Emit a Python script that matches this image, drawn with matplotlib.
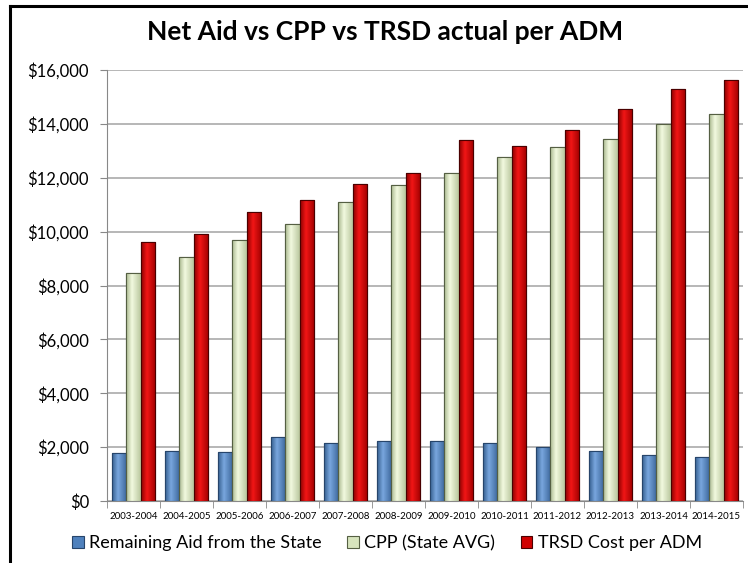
import numpy as np
import matplotlib.pyplot as plt
from matplotlib.ticker import FuncFormatter, FixedLocator
from matplotlib.colors import LinearSegmentedColormap
from matplotlib.lines import Line2D

years = ['2003-2004', '2004-2005', '2005-2006', '2006-2007', '2007-2008', '2008-2009',
         '2009-2010', '2010-2011', '2011-2012', '2012-2013', '2013-2014', '2014-2015']
remaining_aid = [1780, 1860, 1820, 2370, 2170, 2220, 2210, 2140, 2020, 1850, 1690, 1620]
cpp_state_avg = [8470, 9060, 9690, 10280, 11110, 11730, 12180, 12760, 13140, 13440, 13980, 14360]
trsd_cost = [9600, 9900, 10740, 11180, 11760, 12180, 13390, 13190, 13770, 14540, 15280, 15640]

# name, values, legend colour, edge colour, shading (left, highlight, right)
series = [
    ('Remaining Aid from the State', remaining_aid, '#4F81BD', '#27456B',
     ['#36608F', '#79A6DE', '#3C679B']),
    ('CPP (State AVG)', cpp_state_avg, '#D7E4BD', '#555F43',
     ['#A9B88E', '#F2F9DF', '#B9C79E']),
    ('TRSD Cost per ADM', trsd_cost, '#D00000', '#4A0000',
     ['#8E0000', '#F21616', '#A00000']),
]

plt.rcParams['font.family'] = ['Lato', 'DejaVu Sans']

fig = plt.figure(figsize=(7.48, 5.63), dpi=100)
ax = fig.add_axes([107 / 748, 62 / 563, 636 / 748, 431 / 563])

x = np.arange(len(years))
w = 0.265
grad = np.linspace(0, 1, 64).reshape(1, -1)
for i, (name, vals, col, edge, shade) in enumerate(series):
    cmap = LinearSegmentedColormap.from_list(name, [(0, shade[0]), (0.4, shade[1]), (1, shade[2])])
    bars = ax.bar(x + (i - 1) * w, vals, width=w, color=col, edgecolor=edge,
                  linewidth=0.8, label=name, zorder=3)
    for b in bars:
        x0, y0 = b.get_x(), b.get_y()
        im = ax.imshow(grad, cmap=cmap, aspect='auto', zorder=3.5,
                       extent=(x0, x0 + b.get_width(), y0, y0 + b.get_height()))
        im.set_clip_path(b)
        ax.add_patch(plt.Rectangle((x0, y0), b.get_width(), b.get_height(), fill=False,
                                   edgecolor=edge, linewidth=0.8, zorder=4))

ax.set_ylim(0, 16000)
ax.set_xlim(-0.5, len(years) - 0.5)
ax.set_yticks(np.arange(0, 16001, 2000))
ax.yaxis.set_major_formatter(FuncFormatter(lambda v, p: '${:,.0f}'.format(v)))
ax.tick_params(axis='y', labelsize=12, length=5, color='#888888', pad=8)
ax.grid(axis='y', color='#AAAAAA', linewidth=1.2, zorder=0)

ax.set_xticks(x)
ax.set_xticklabels(years, fontsize=7)
ax.tick_params(axis='x', length=0, pad=8)
ax.xaxis.set_minor_locator(FixedLocator(np.arange(-0.5, len(years), 1.0)))
ax.tick_params(axis='x', which='minor', length=5, color='#888888')

for s in ['top', 'right']:
    ax.spines[s].set_visible(False)
for s in ['left', 'bottom']:
    ax.spines[s].set_color('#888888')

fig.suptitle('Net Aid vs CPP vs TRSD actual per ADM', x=385 / 748, y=1 - 32 / 563,
             va='center', fontsize=19, fontweight='bold')

fig.legend(loc='center', bbox_to_anchor=(387 / 748, 1 - 543 / 563), ncol=3,
           frameon=False, fontsize=13, handlelength=0.65, handleheight=0.65,
           handletextpad=0.3, columnspacing=1.4)

# chart frame: left and top edges
fig.add_artist(Line2D([10 / 748, 10 / 748], [0, 1 - 6 / 563], color='black', linewidth=2.2))
fig.add_artist(Line2D([10 / 748, 1], [1 - 6 / 563, 1 - 6 / 563], color='black', linewidth=2.2))

fig.savefig('out.png', dpi=100)
